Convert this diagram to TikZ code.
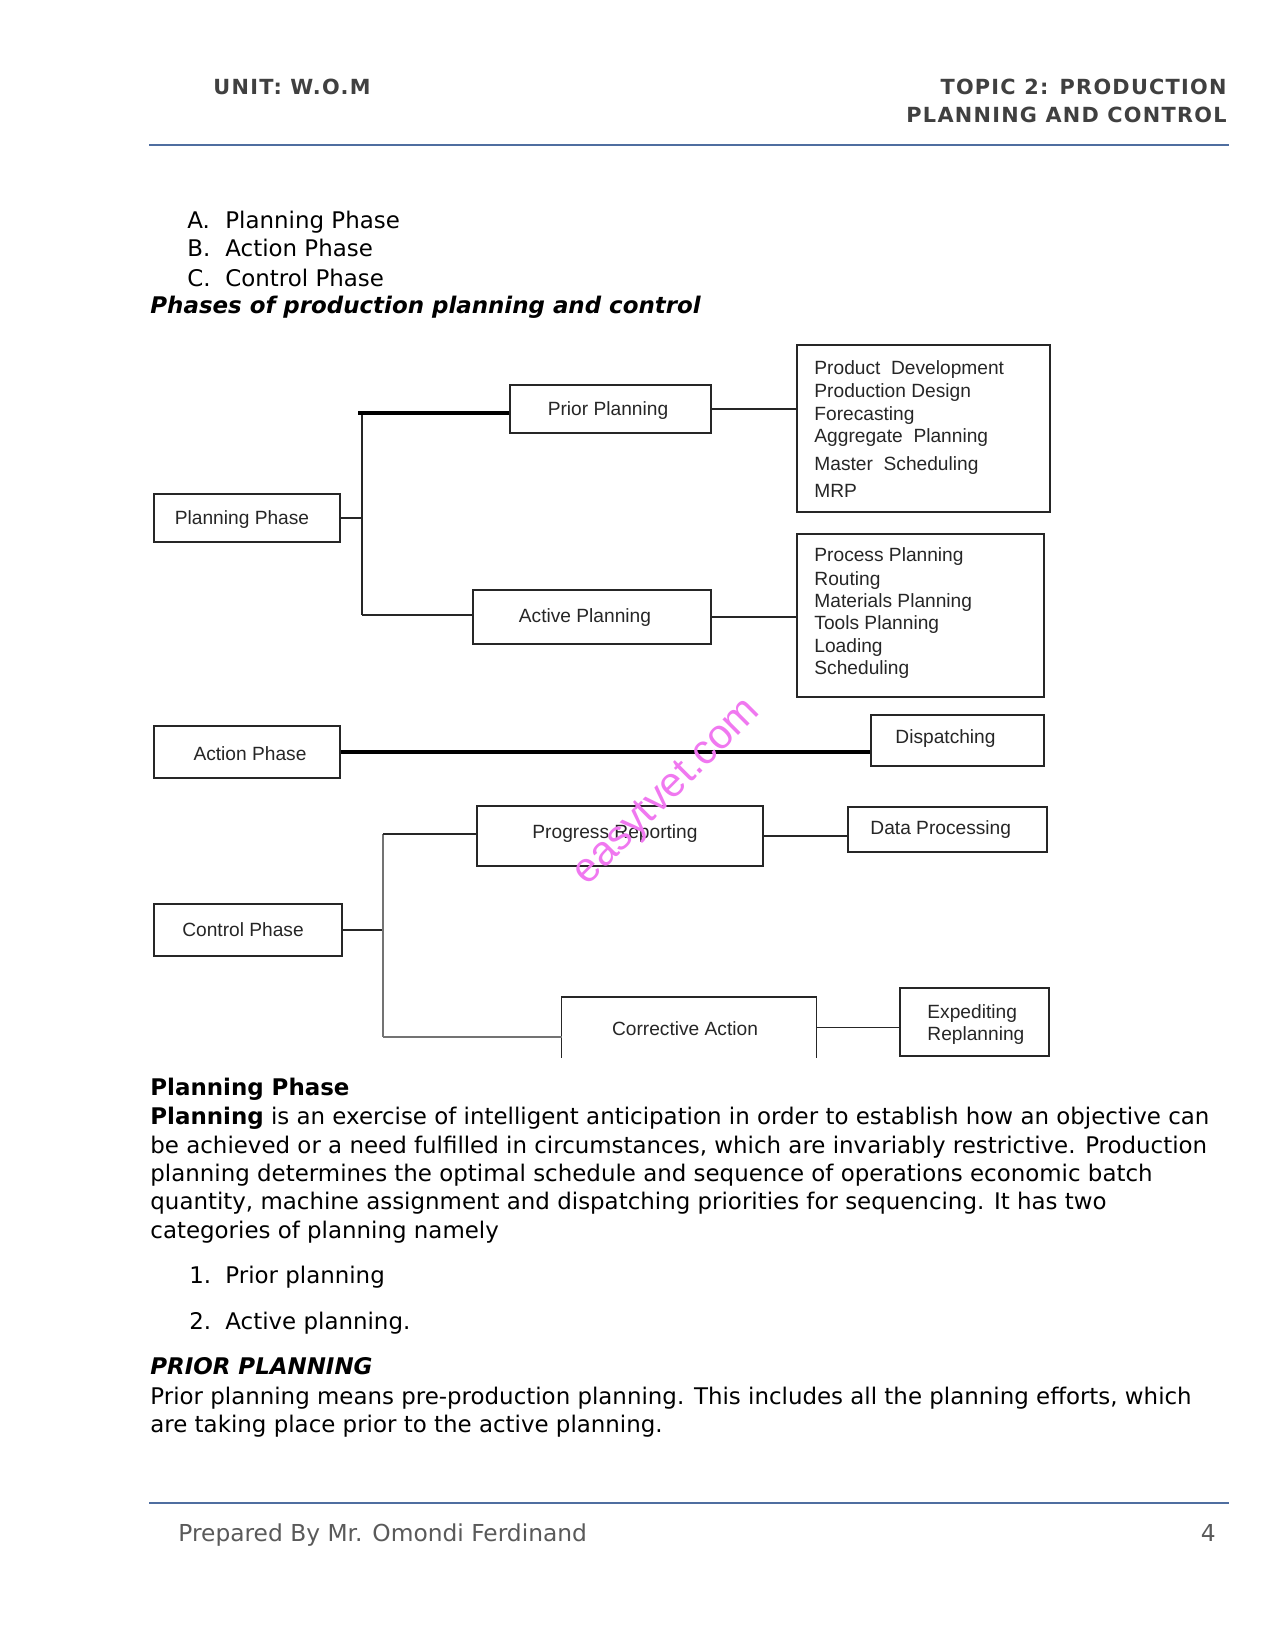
\documentclass[tikz,border=0pt]{standalone}
\usepackage{fontspec}
\setmainfont{DejaVu Sans}
\newfontfamily\arialf{Liberation Sans}
\newfontfamily\hdrf[LetterSpace=6]{DejaVu Sans}
\definecolor{rulecol}{RGB}{79,110,160}
\definecolor{hdrcol}{RGB}{64,64,64}
\definecolor{footcol}{RGB}{90,90,90}
\definecolor{wmark}{RGB}{240,120,240}
\begin{document}
\begin{tikzpicture}[x=0.48pt,y=-0.48pt,
  box/.style={draw=black!85, line width=0.8pt, inner sep=0pt},
  sz/.style 2 args={minimum width=#1*0.48pt, minimum height=#2*0.48pt},
  dtext/.style={font=\arialf\fontsize{9.2}{11}\selectfont, text=black!85, inner sep=0pt},
  conn/.style={line width=0.8pt, draw=black!85},
  heavy/.style={line width=1.7pt, draw=black},
  greyconn/.style={line width=0.8pt, draw=black!55},
  body/.style={font=\fontsize{11}{13}\selectfont, anchor=base west, inner sep=0pt},
  hdr/.style={font=\hdrf\bfseries\fontsize{10}{12}\selectfont, text=hdrcol, inner sep=0pt},
  rulel/.style={draw=rulecol, line width=0.7pt}]
\useasboundingbox (0,0) rectangle (1275,1650);
\fill[white] (0,0) rectangle (1275,1650);

% header
\node[hdr, anchor=base west] (h1) at (213,95) {UNIT: W.O.M};
\node[hdr, anchor=base east] (h2) at (1227,95) {TOPIC 2: PRODUCTION};
\node[hdr, anchor=base east] (h3) at (1227,123) {PLANNING AND CONTROL};
\coordinate (hrL) at (149,145);
\coordinate (hrR) at (1229,145);
\draw[rulel] (hrL) -- (hrR);

% list
\node[body] (la) at (187,229) {A.};
\node[body] (lat) at (225,229) {Planning Phase};
\node[body] (lb) at (187,257) {B.};
\node[body] (lbt) at (225,257) {Action Phase};
\node[body] (lc) at (187,287) {C.};
\node[body] (lct) at (225,287) {Control Phase};
\node[body, font=\bfseries\itshape\fontsize{11}{13}\selectfont] (title) at (150,314) {Phases of production planning and control};

% diagram boxes
\node[box, sz={201}{48}] (prior) at (610.5,409) {};
\node[box, sz={186}{48}] (plan) at (247,518) {};
\node[box, sz={238}{54}] (active) at (592,617) {};
\node[box, sz={253}{167}, line width=1.1pt] (prod) at (923.5,428.5) {};
\node[box, sz={247}{163}] (proc) at (920.5,615.5) {};
\node[box, sz={186}{52}] (action) at (247,752) {};
\node[box, sz={173}{51}] (disp) at (957.5,740.5) {};
\node[box, sz={286}{60}] (prog) at (620,836) {};
\node[box, sz={199}{45}] (data) at (947.5,829.5) {};
\node[box, sz={188}{52}] (ctrl) at (248,930) {};
\node[inner sep=0pt, sz={254}{60}] (corr) at (689,1027.5) {};
\draw[conn] (corr.south west) -- (corr.north west) -- (corr.north east) -- (corr.south east);
\node[box, sz={149}{68}] (expd) at (974.5,1022) {};

% diagram texts
\node[dtext, anchor=base] (priorT) at (608,415) {Prior Planning};
\node[dtext, anchor=base] (planT) at (242,524) {Planning Phase};
\node[dtext, anchor=base] (activeT) at (585,622) {Active Planning};
\node[dtext, anchor=base] (actionT) at (250,760) {Action Phase};
\node[dtext, anchor=base] (ctrlT) at (243,936) {Control Phase};
\node[dtext, anchor=base] (progT) at (615,838) {Progress Reporting};
\node[dtext, anchor=base] (corrT) at (685,1035) {Corrective Action};
\node[dtext, anchor=base west] (dispT) at (895,743) {Dispatching};
\node[dtext, anchor=base west] (dataT) at (870,834) {Data Processing};
\node[dtext, anchor=base west] (expT1) at (927,1018) {Expediting};
\node[dtext, anchor=base west] (expT2) at (927,1040) {Replanning};
\node[dtext, anchor=base west] (pd1) at (814,375) {Product\ \ Development};
\node[dtext, anchor=base west] (pd2) at (814,398) {Production Design};
\node[dtext, anchor=base west] (pd3) at (814,420) {Forecasting};
\node[dtext, anchor=base west] (pd4) at (814,443) {Aggregate\ \ Planning};
\node[dtext, anchor=base west] (pd5) at (814,470) {Master\ \ Scheduling};
\node[dtext, anchor=base west] (pd6) at (814,497) {MRP};
\node[dtext, anchor=base west] (pc1) at (814,561) {Process Planning};
\node[dtext, anchor=base west] (pc2) at (814,585) {Routing};
\node[dtext, anchor=base west] (pc3) at (814,607) {Materials Planning};
\node[dtext, anchor=base west] (pc4) at (814,629) {Tools Planning};
\node[dtext, anchor=base west] (pc5) at (814,652) {Loading};
\node[dtext, anchor=base west] (pc6) at (814,674) {Scheduling};

% connectors: planning phase
\coordinate (jTop) at (362,413);
\coordinate (jBot) at (362,615);
\coordinate (jTopL) at (358,413);
\draw[conn] (plan.east) -- (plan.east -| jTop);
\draw[conn] (jTop) -- (jBot);
\draw[heavy] (jTopL) -- (prior.west |- jTop);
\draw[conn] (jBot) -- (active.west |- jBot);
\draw[conn] (prior.east) -- (prod.west |- prior.east);
\draw[conn] (active.east) -- (proc.west |- active.east);
% action phase
\draw[heavy] (action.east) -- (disp.west |- action.east);
% control phase
\coordinate (cTop) at (383,834);
\coordinate (cBot) at (383,1037);
\draw[conn] (ctrl.east) -- (ctrl.east -| cTop);
\draw[greyconn] (cTop) -- (cBot);
\draw[conn] (cTop) -- (prog.west |- cTop);
\draw[greyconn] (cBot) -- (corr.west |- cBot);
\draw[conn] (prog.east) -- (data.west |- prog.east);
\draw[conn] (corr.east) -- (expd.west |- corr.east);

% watermark
\node[font=\arialf\fontsize{20}{24}\selectfont, text=wmark, rotate=45, inner sep=0pt] (wm) at (668,793) {easytvet.com};

% body text
\node[body, font=\bfseries\fontsize{11}{13}\selectfont] (bh) at (150,1095) {Planning Phase};
\node[body] (b1) at (150,1124) {\textbf{Planning} is an exercise of intelligent anticipation in order to establish how an objective can};
\node[body] (b2) at (150,1153) {be achieved or a need fulfilled in circumstances, which are invariably restrictive. Production};
\node[body] (b3) at (150,1181) {planning determines the optimal schedule and sequence of operations economic batch};
\node[body] (b4) at (150,1209) {quantity, machine assignment and dispatching priorities for sequencing. It has two};
\node[body] (b5) at (150,1238) {categories of planning namely};
\node[body] (i1) at (189,1283) {1.};
\node[body] (i1t) at (225,1283) {Prior planning};
\node[body] (i2) at (189,1329) {2.};
\node[body] (i2t) at (225,1329) {Active planning.};
\node[body, font=\bfseries\itshape\fontsize{11}{13}\selectfont] (pph) at (150,1374) {PRIOR PLANNING};
\node[body] (p1) at (150,1404) {Prior planning means pre-production planning. This includes all the planning efforts, which};
\node[body] (p2) at (150,1432) {are taking place prior to the active planning.};

% footer
\coordinate (frL) at (149,1503);
\coordinate (frR) at (1229,1503);
\draw[rulel] (frL) -- (frR);
\node[body, text=footcol, font=\fontsize{11.2}{13}\selectfont] (foot) at (178,1541) {Prepared By Mr. Omondi Ferdinand};
\node[body, text=footcol, anchor=base east, font=\fontsize{11.2}{13}\selectfont] (pg) at (1216,1541) {4};
\end{tikzpicture}
\end{document}
